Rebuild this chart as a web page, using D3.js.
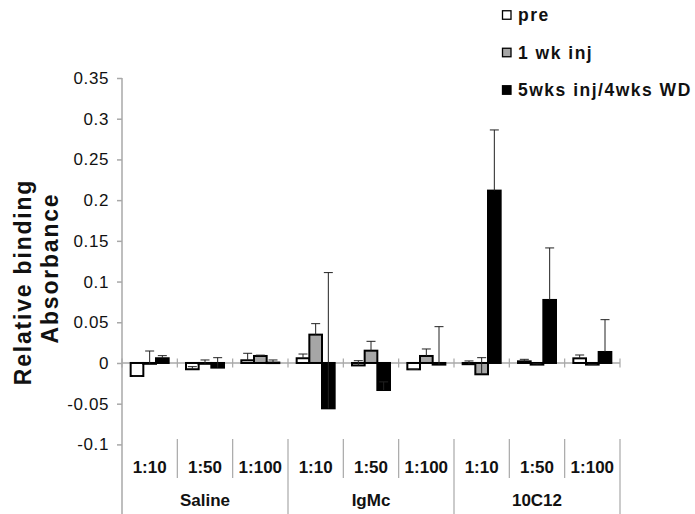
<!DOCTYPE html>
<html lang="en">
<head>
<meta charset="UTF-8">
<script src="https://d3js.org/d3.v7.min.js"></script>
<style>
  body { margin: 0; background: #fff; }
  svg { font-family: "Liberation Sans", Arial, sans-serif; }
</style>
</head>
<body>
<div id="chart"></div>
<script>
const groups = ["Saline", "IgMc", "10C12"];
const dilutions = ["1:10", "1:50", "1:100"];
const seriesNames = ["pre", "1 wk inj", "5wks inj/4wks WD"];

// values per category, in order Saline 1:10 ... 10C12 1:100
const preVals = [-0.016, -0.0077, 0.0033, 0.0058, -0.003, -0.0078, -0.0015, 0.002, 0.0057];
const wk1Vals = [-0.001, -0.001, 0.0086, 0.0348, 0.0151, 0.0086, -0.0139, -0.002, -0.002];
const wd5Vals = [0.0058, -0.0057, 0.0005, -0.0557, -0.0332, -0.002, 0.2117, 0.0774, 0.0135];

// plus error bars
const preErr = [0, 0.0032, 0.0086, 0.0052, 0.0058, 0, 0.004, 0.0025, 0.0041];
const wk1Err = [0.0157, 0.0047, 0.001, 0.0135, 0.0115, 0.0086, 0.0204, 0.001, 0];
const wd5Err = [0.0032, 0.0122, 0.0032, 0.1667, 0.01, 0.0466, 0.0745, 0.0639, 0.0397];

const yTicks = [0.35, 0.3, 0.25, 0.2, 0.15, 0.1, 0.05, 0, -0.05, -0.1];

const fills = ["#ffffff", "#a6a6a6", "#000000"];

const svg = d3.select("#chart").append("svg")
  .attr("width", 695)
  .attr("height", 514);

const cats = [];
groups.forEach(g => dilutions.forEach(d => cats.push(g + "|" + d)));

const x = d3.scaleBand().domain(cats).range([122, 620]);
const xs = d3.scaleBand().domain(seriesNames).range([0, 38]);
const y = d3.scaleLinear().domain([-0.1, 0.35]).range([444.4, 78]);
const bw = x.bandwidth();
const off = (bw - 38) / 2;
const y0 = y(0);

// y axis
const yAxis = d3.axisLeft(y)
  .tickValues(yTicks)
  .tickSize(5)
  .tickPadding(8)
  .tickFormat(d => String(+d.toFixed(2)));

const yg = svg.append("g")
  .attr("transform", "translate(122,0)")
  .call(yAxis);
yg.select(".domain").remove();
yg.selectAll(".tick line").attr("stroke", "#a8a8a8").attr("stroke-width", 1.5);
yg.selectAll(".tick text")
  .attr("fill", "#111")
  .style("font-size", "17px")
  .style("letter-spacing", "0.6px");

svg.append("line")
  .attr("x1", 122).attr("x2", 122)
  .attr("y1", y(0.35)).attr("y2", 514)
  .attr("stroke", "#a8a8a8").attr("stroke-width", 1.5);

// x axis at zero
svg.append("line")
  .attr("x1", 122).attr("x2", 620)
  .attr("y1", y0).attr("y2", y0)
  .attr("stroke", "#a8a8a8").attr("stroke-width", 1.5);

const bounds = d3.range(cats.length + 1).map(i => 122 + i * bw);
svg.append("g").selectAll("line")
  .data(bounds)
  .join("line")
  .attr("x1", d => d).attr("x2", d => d)
  .attr("y1", y0 - 4.5).attr("y2", y0 + 4.5)
  .attr("stroke", "#a8a8a8").attr("stroke-width", 1.2);

// category label separators
svg.append("g").selectAll("line")
  .data(bounds.slice(1))
  .join("line")
  .attr("x1", d => d).attr("x2", d => d)
  .attr("y1", 439)
  .attr("y2", (d, i) => ((i + 1) % 3 === 0) ? 514 : 478)
  .attr("stroke", "#a8a8a8").attr("stroke-width", 1.2);

svg.append("g").selectAll("text")
  .data(cats)
  .join("text")
  .attr("x", d => x(d) + bw / 2)
  .attr("y", 473)
  .attr("text-anchor", "middle")
  .style("font-size", "17px")
  .style("font-weight", "bold")
  .attr("fill", "#111")
  .text(d => d.split("|")[1]);

svg.append("g").selectAll("text")
  .data(groups)
  .join("text")
  .attr("x", g => x(g + "|" + dilutions[0]) + bw * 1.5)
  .attr("y", 506)
  .attr("text-anchor", "middle")
  .style("font-size", "17px")
  .style("font-weight", "bold")
  .attr("fill", "#111")
  .text(g => g);

// bars
const allVals = [preVals, wk1Vals, wd5Vals];
const allErr = [preErr, wk1Err, wd5Err];

seriesNames.forEach((s, si) => {
  const rows = cats.map((c, i) => ({ c: c, v: allVals[si][i], e: allErr[si][i] }));
  const sg = svg.append("g");
  sg.selectAll("rect")
    .data(rows)
    .join("rect")
    .attr("x", d => x(d.c) + off + xs(s))
    .attr("width", xs.bandwidth())
    .attr("y", d => Math.min(y(d.v), y0))
    .attr("height", d => Math.max(Math.abs(y(d.v) - y0), 0.5))
    .attr("fill", fills[si])
    .attr("stroke", "#000")
    .attr("stroke-width", 2);

  // error bars
  const eg = svg.append("g").attr("stroke", "#222").attr("stroke-width", 1);
  rows.forEach(d => {
    const cx = x(d.c) + off + xs(s) + xs.bandwidth() / 2;
    eg.append("line")
      .attr("x1", cx).attr("x2", cx)
      .attr("y1", y(d.v)).attr("y2", y(d.v + d.e));
    eg.append("line")
      .attr("x1", cx - 4.5).attr("x2", cx + 4.5)
      .attr("y1", y(d.v + d.e)).attr("y2", y(d.v + d.e));
  });
});

// y title
const yt = svg.append("g")
  .style("font-size", "23px")
  .style("font-weight", "bold")
  .style("letter-spacing", "1.8px")
  .attr("fill", "#111");
yt.append("text")
  .attr("transform", "translate(31,282) rotate(-90)")
  .attr("text-anchor", "middle")
  .text("Relative binding");
yt.append("text")
  .attr("transform", "translate(58,268) rotate(-90)")
  .attr("text-anchor", "middle")
  .text("Absorbance");

// legend
const legendY = [15, 52.5, 90];
const lg = svg.append("g").selectAll("g")
  .data(seriesNames)
  .join("g")
  .attr("transform", (d, i) => `translate(502.5,${legendY[i]})`);
lg.append("rect")
  .attr("x", 0).attr("y", -4.25)
  .attr("width", 8.5).attr("height", 8.5)
  .attr("fill", (d, i) => fills[i])
  .attr("stroke", "#000")
  .attr("stroke-width", 1.3);
lg.append("text")
  .attr("x", 15.5)
  .attr("dy", "0.36em")
  .style("font-size", "17.5px")
  .style("font-weight", "bold")
  .style("letter-spacing", "1.5px")
  .attr("fill", "#111")
  .text(d => d);
</script>
</body>
</html>
